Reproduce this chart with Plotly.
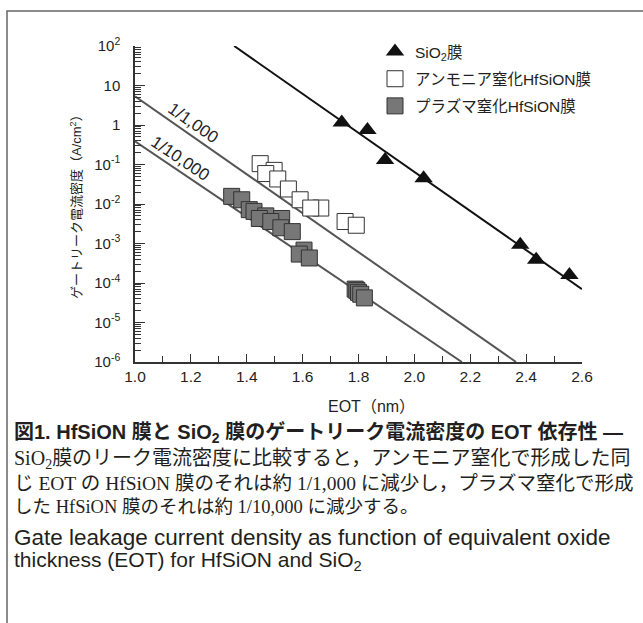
import plotly.graph_objects as go

# ---------------- data ----------------
sio2_eot = [1.740, 1.832, 1.895, 2.033, 2.379, 2.436, 2.555]
sio2_j = [1.15, 0.75, 0.13, 0.045, 9.3e-4, 3.9e-4, 1.6e-4]
sio2_fit_eot = [1.355, 2.600]
sio2_fit_j = [100, 7.0e-5]

nh3_eot = [1.448, 1.498, 1.468, 1.511, 1.549, 1.591, 1.665, 1.629, 1.752, 1.792]
nh3_j = [0.105, 0.071, 0.059, 0.043, 0.024, 0.0128, 0.0079, 0.0079, 0.0036, 0.0029]

plasma_eot = [1.346, 1.382, 1.409, 1.426, 1.468, 1.445, 1.525, 1.486, 1.522, 1.563,
              1.605, 1.588, 1.624, 1.788, 1.794, 1.800, 1.808, 1.821]
plasma_j = [0.0156, 0.0128, 0.0072, 0.0065, 0.0050, 0.0043, 0.0043, 0.0036, 0.0025, 0.0020,
            6.8e-4, 5.4e-4, 4.3e-4, 7.0e-5, 6.5e-5, 5.8e-5, 5.2e-5, 4.2e-5]

ratio1k_eot = [1.0, 2.364]
ratio1k_j = [5.3, 1e-6]
ratio10k_eot = [1.0, 2.170]
ratio10k_j = [0.385, 1e-6]

x_tickvals = [1.0, 1.2, 1.4, 1.6, 1.8, 2.0, 2.2, 2.4, 2.6]
x_ticktext = ["1.0", "1.2", "1.4", "1.6", "1.8", "2.0", "2.2", "2.4", "2.6"]
y_tickvals = [1e2, 1e1, 1e0, 1e-1, 1e-2, 1e-3, 1e-4, 1e-5, 1e-6]
y_ticktext = ["10<sup>2</sup>", "10", "1", "10<sup>-1</sup>", "10<sup>-2</sup>",
              "10<sup>-3</sup>", "10<sup>-4</sup>", "10<sup>-5</sup>", "10<sup>-6</sup>"]

name_sio2 = "SiO<sub>2</sub>膜"
name_nh3 = "アンモニア窒化HfSiON膜"
name_plasma = "プラズマ窒化HfSiON膜"

caption_lines = [
    "図1. HfSiON 膜と SiO<sub>2</sub> 膜のゲートリーク電流密度の EOT 依存性 ―",
    "SiO<sub>2</sub>膜のリーク電流密度に比較すると，アンモニア窒化で形成した同",
    "じ EOT の HfSiON 膜のそれは約 1/1,000 に減少し，プラズマ窒化で形成",
    "した HfSiON 膜のそれは約 1/10,000 に減少する。",
    "Gate leakage current density as function of equivalent oxide",
    "thickness (EOT) for HfSiON and SiO<sub>2</sub>",
]

# ---------------- layout geometry ----------------
W, H = 643, 623
L, R, T, B = 135, 61, 46, 261
PW, PH = W - L - R, H - T - B


def px(xp):
    return (xp - L) / PW


def py(yp):
    return (H - B - yp) / PH


SANS = "Liberation Sans, Arial, Noto Sans CJK JP, sans-serif"
SERIF = "Liberation Serif, Noto Sans CJK JP, serif"
TXT = "#231f20"

fig = go.Figure()

fig.add_trace(go.Scatter(x=ratio1k_eot, y=ratio1k_j, mode="lines",
                         line=dict(color="#555555", width=2), showlegend=False, hoverinfo="skip"))
fig.add_trace(go.Scatter(x=ratio10k_eot, y=ratio10k_j, mode="lines",
                         line=dict(color="#555555", width=2), showlegend=False, hoverinfo="skip"))
fig.add_trace(go.Scatter(x=sio2_fit_eot, y=sio2_fit_j, mode="lines",
                         line=dict(color="#111111", width=2), showlegend=False, hoverinfo="skip"))

fig.add_trace(go.Scatter(x=sio2_eot, y=sio2_j, mode="markers", name=name_sio2, legendgroup="a",
                         marker=dict(symbol="triangle-up", size=16, color="#111111",
                                     line=dict(width=0))))
fig.add_trace(go.Scatter(x=nh3_eot, y=nh3_j, mode="markers", name=name_nh3, legendgroup="b",
                         marker=dict(symbol="square", size=16, color="white",
                                     line=dict(width=1, color="#333333"))))
fig.add_trace(go.Scatter(x=plasma_eot, y=plasma_j, mode="markers", name=name_plasma, legendgroup="c",
                         marker=dict(symbol="square", size=16, color="#777777",
                                     line=dict(width=1, color="#333333"))))

annotations = [
    dict(x=1.211, y=0.05, xref="x", yref="y", text="1/1,000", showarrow=False,
         textangle=35, font=dict(family=SANS, size=17, color=TXT)),
    dict(x=1.161, y=-0.853, xref="x", yref="y", text="1/10,000", showarrow=False,
         textangle=34, font=dict(family=SANS, size=17, color=TXT)),
    dict(x=px(76), y=py(204), xref="paper", yref="paper",
         text="ゲートリーク電流密度（A/cm<sup>2</sup>）", showarrow=False, textangle=-90,
         xanchor="center", yanchor="middle", font=dict(family=SANS, size=13, color=TXT)),
    dict(x=px(371), y=py(406), xref="paper", yref="paper", text="EOT（nm）", showarrow=False,
         xanchor="center", yanchor="middle", font=dict(family=SANS, size=16, color=TXT)),
]

cap_y = [434, 459, 483, 507, 537, 561]
cap_fonts = [dict(family=SANS, size=20, color=TXT, weight="bold"),
             dict(family=SERIF, size=20, color=TXT),
             dict(family=SERIF, size=19.5, color=TXT),
             dict(family=SERIF, size=18.5, color=TXT),
             dict(family=SANS, size=22.5, color=TXT),
             dict(family=SANS, size=21, color=TXT)]
for line, yy, f in zip(caption_lines, cap_y, cap_fonts):
    annotations.append(dict(x=px(12), y=py(yy), xref="paper", yref="paper", text=line,
                            showarrow=False, xanchor="left", yanchor="middle", font=f))

fig.update_layout(
    width=W, height=H,
    margin=dict(l=L, r=R, t=T, b=B, autoexpand=False),
    paper_bgcolor="white", plot_bgcolor="white",
    font=dict(family=SANS, size=15, color=TXT),
    showlegend=True,
    legend=dict(x=px(375), y=py(35), xanchor="left", yanchor="top",
                bgcolor="rgba(0,0,0,0)", font=dict(family=SANS, size=15.5, color=TXT),
                traceorder="grouped", tracegroupgap=4, itemsizing="trace"),
    annotations=annotations,
    shapes=[dict(type="rect", xref="paper", yref="paper",
                 x0=px(7), x1=px(660), y0=py(640), y1=py(11),
                 line=dict(color="#666666", width=1.5), fillcolor="rgba(0,0,0,0)", layer="below")],
)

fig.update_xaxes(
    range=[1.0, 2.6], tickvals=x_tickvals, ticktext=x_ticktext,
    ticks="inside", ticklen=8, tickwidth=1.2, tickcolor="#333333",
    showline=True, linecolor="#333333", linewidth=1.5, showgrid=False, zeroline=False,
    tickfont=dict(family=SANS, size=15.5, color=TXT),
    minor=dict(ticks="inside", dtick=0.1, tick0=1.0, ticklen=6, tickwidth=1.2, tickcolor="#333333", showgrid=False),
)

y_minor = [k * 10.0 ** e for e in range(-6, 2) for k in range(2, 10)]
fig.update_yaxes(
    type="log", range=[-6, 2], tickvals=y_tickvals, ticktext=y_ticktext,
    ticks="inside", ticklen=10, tickwidth=1.2, tickcolor="#333333",
    showline=True, linecolor="#333333", linewidth=1.5, showgrid=False, zeroline=False,
    tickfont=dict(family=SANS, size=15, color=TXT), ticklabelstandoff=10,
    minor=dict(ticks="inside", tickvals=y_minor, ticklen=6, tickwidth=1, tickcolor="#333333", showgrid=False),
)

fig.write_html("out.html")
